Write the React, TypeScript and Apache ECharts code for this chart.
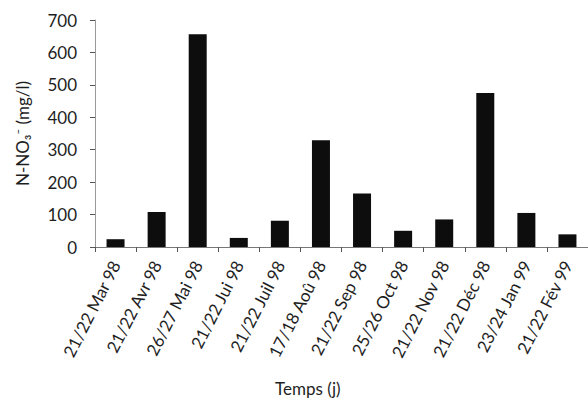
import React, { useEffect, useRef } from "react";
import * as echarts from "echarts";

const categories = [
  "21/22 Mar 98",
  "21/22 Avr 98",
  "26/27 Mai 98",
  "21/22 Jui 98",
  "21/22 Juil 98",
  "17/18 Aoû 98",
  "21/22 Sep 98",
  "25/26 Oct 98",
  "21/22 Nov 98",
  "21/22 Déc 98",
  "23/24 Jan 99",
  "21/22 Fév 99",
];
const values = [24, 108, 656, 28, 81, 329, 165, 50, 85, 475, 105, 39];
const yTicks = { min: 0, max: 700, interval: 100 };
const yName = "N-NO₃⁻ (mg/l)";
const xName = "Temps (j)";

const FONT = "Lato, 'Open Sans', sans-serif";
const TXT = "#1e1e1e";

export default function App() {
  const ref = useRef<HTMLDivElement>(null);
  useEffect(() => {
    if (!ref.current) return;
    const chart = echarts.init(ref.current, undefined, { renderer: "svg" });
    chart.setOption({
      animation: false,
      backgroundColor: "#ffffff",
      grid: { left: 95, top: 20, bottom: 153, width: 500 },
      xAxis: {
        type: "category",
        data: categories,
        axisLine: { lineStyle: { color: "#777", width: 1 } },
        axisTick: { show: true, length: 5, lineStyle: { color: "#555" } },
        axisLabel: {
          rotate: 63,
          interval: 0,
          margin: 15,
          color: TXT,
          fontSize: 17,
          fontFamily: FONT,
        },
      },
      yAxis: {
        type: "value",
        min: yTicks.min,
        max: yTicks.max,
        interval: yTicks.interval,
        name: yName,
        nameLocation: "middle",
        nameGap: 64,
        nameTextStyle: { color: TXT, fontSize: 17, fontFamily: FONT },
        splitLine: { show: false },
        axisLine: { show: true, lineStyle: { color: "#999", width: 1 } },
        axisTick: { show: true, length: 5, lineStyle: { color: "#555" } },
        axisLabel: { color: TXT, fontSize: 17, fontFamily: FONT, margin: 18 },
      },
      graphic: [
        {
          type: "text",
          left: 275,
          top: 380,
          style: { text: xName, fill: TXT, fontSize: 17, fontFamily: FONT },
        },
      ],
      series: [
        {
          type: "bar",
          data: values,
          barWidth: 18,
          itemStyle: { color: "#0d0d0d" },
        },
      ],
    });
    return () => chart.dispose();
  }, []);
  return (
    <div
      ref={ref}
      style={{ position: "fixed", left: 0, top: 0, width: 588, height: 400 }}
    />
  );
}
